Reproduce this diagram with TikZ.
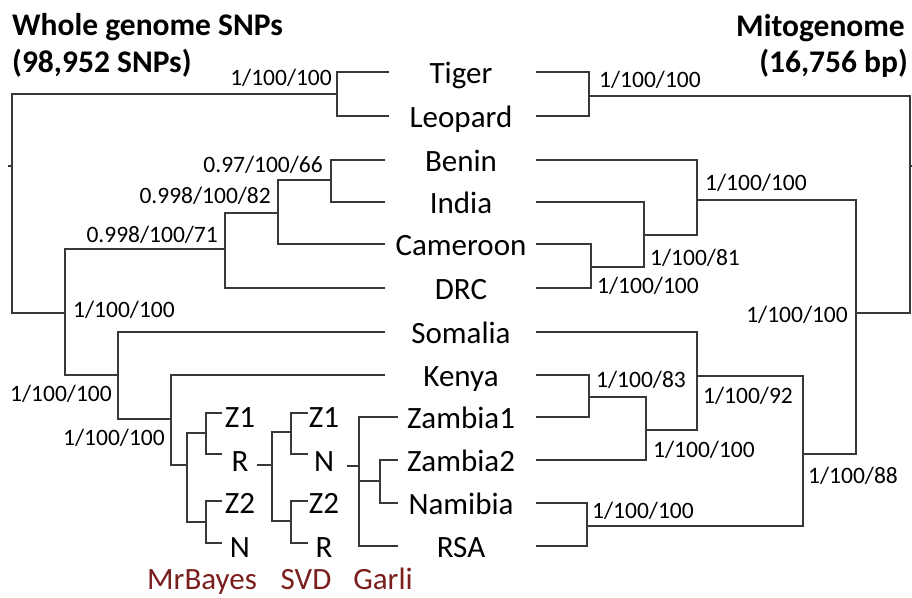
\documentclass[tikz,border=0pt]{standalone}
\usepackage{fontspec}
\setmainfont{Carlito}
\usetikzlibrary{positioning}
\definecolor{methodred}{RGB}{122,30,30}
\tikzset{branch/.style={draw=black!78,line width=1.5pt},
         taxon/.style={anchor=base,inner sep=0pt,font=\fontsize{31}{31}\selectfont},
         support/.style={inner sep=0pt,font=\fontsize{23.5}{24}\selectfont},
         heading/.style={inner sep=0pt,font=\bfseries\fontsize{31.5}{32}\selectfont},
         method/.style={anchor=base,inner sep=0pt,text=methodred,font=\fontsize{31}{31}\selectfont}
}

\begin{document}
\begin{tikzpicture}[x=1pt,y=-1pt]
\useasboundingbox (0,0) rectangle (912,597);
% headings
\node[heading,anchor=base west] (wgs) at (12,35) {Whole genome SNPs};
\node[heading,anchor=base west] (wgsn) at (12,72) {(98,952 SNPs)};
\node[heading,anchor=base east] (mito) at (905,36) {Mitogenome};
\node[heading,anchor=base east] (miton) at (908,72) {(16,756 bp)};

% taxa, with the ends of the branches on both sides
\foreach \name/\y/\lx in {Tiger/72/389, Leopard/116/389, Benin/160/385, India/202/385,
    Cameroon/244/385, DRC/288/385, Somalia/332/385, Kenya/375/385,
    Zambia1/417/398, Zambia2/460/398, Namibia/503/398, RSA/546/398}{
  \node[taxon] (\name) at (461,\y+11) {\name};
  \coordinate (l\name) at (\lx,\y);
  \coordinate (r\name) at (536,\y);
}

% whole genome tree
\coordinate (0) at (12,166);
\coordinate (stubl) at (8,166);
\coordinate (1) at (337,94);
\coordinate (2) at (65,313);
\coordinate (3) at (225,249);
\coordinate (4) at (278,213);
\coordinate (5) at (331,180);
\coordinate (6) at (118,375);
\coordinate (7) at (171,419);
\coordinate (8) at (187,465);
\coordinate (9) at (206,433);
\coordinate (10) at (206,522);
\coordinate (11) at (272,465);
\coordinate (12) at (291,432);
\coordinate (13) at (291,521);
\coordinate (14) at (359,466);
\coordinate (15) at (380,481);

% the three Zambia/RSA/Namibia topologies
\foreach \lab/\y/\by in {Z1/413/427, R/454/471, Z2/501/513, N/543/557}{
  \node[taxon] (mb\lab) at (240,\by) {\lab};
  \coordinate (mbt\lab) at (222,\y);
}
\foreach \lab/\y/\by in {Z1/413/427, N/454/471, Z2/501/513, R/543/557}{
  \node[taxon] (sv\lab) at (324,\by) {\lab};
  \coordinate (svt\lab) at (308,\y);
}
\node[method] (mrbayes) at (202,589) {MrBayes};
\node[method] (svd) at (306,589) {SVD};
\node[method] (garli) at (383,589) {Garli};

\draw[branch] (stubl) -- (0);
\draw[branch] (0) |- (1);
\draw[branch] (0) |- (2);
\draw[branch] (1) |- (lTiger);
\draw[branch] (1) |- (lLeopard);
\draw[branch] (2) |- (3);
\draw[branch] (2) |- (6);
\draw[branch] (3) |- (4);
\draw[branch] (3) |- (lDRC);
\draw[branch] (4) |- (5);
\draw[branch] (4) |- (lCameroon);
\draw[branch] (5) |- (lBenin);
\draw[branch] (5) |- (lIndia);
\draw[branch] (6) |- (lSomalia);
\draw[branch] (6) |- (7);
\draw[branch] (7) |- (lKenya);
\draw[branch] (7) |- (8);
\draw[branch] (8) |- (9);
\draw[branch] (8) |- (10);
\draw[branch] (9) |- (mbtZ1);
\draw[branch] (9) |- (mbtR);
\draw[branch] (10) |- (mbtZ2);
\draw[branch] (10) |- (mbtN);
\draw[branch] ([xshift=8pt]mbR.east |- 11) -- (11);
\draw[branch] (11) |- (12);
\draw[branch] (11) |- (13);
\draw[branch] (12) |- (svtZ1);
\draw[branch] (12) |- (svtN);
\draw[branch] (13) |- (svtZ2);
\draw[branch] (13) |- (svtR);
\draw[branch] ([xshift=13pt]svN.east |- 14) -- (14);
\draw[branch] (14) |- (lZambia1);
\draw[branch] (14) |- (lRSA);
\draw[branch] (14 |- 15) -- (15);
\draw[branch] (15) |- (lZambia2);
\draw[branch] (15) |- (lNamibia);

\node[support,anchor=base east] (s1) at (332,85) {1/100/100};
\node[support,anchor=base east] (s5) at (323,172) {0.97/100/66};
\node[support,anchor=base east] (s4) at (271,203) {0.998/100/82};
\node[support,anchor=base east] (s3) at (218,242) {0.998/100/71};
\node[support,anchor=base west] (s2) at (73,317) {1/100/100};
\node[support,anchor=base west] (s6) at (10,401) {1/100/100};
\node[support,anchor=base west] (s7) at (63,445) {1/100/100};

% mitogenome tree
\coordinate (20) at (910,166);
\coordinate (stubr) at (913,166);
\coordinate (21) at (589,96);
\coordinate (22) at (856,313);
\coordinate (23) at (697,200);
\coordinate (24) at (644,235);
\coordinate (25) at (591,267);
\coordinate (26) at (803,454);
\coordinate (27) at (697,376);
\coordinate (28) at (646,430);
\coordinate (29) at (589,397);
\coordinate (30) at (587,526);

\draw[branch] (20) -- (stubr);
\draw[branch] (20) |- (21);
\draw[branch] (20) |- (22);
\draw[branch] (21) |- (rTiger);
\draw[branch] (21) |- (rLeopard);
\draw[branch] (22) |- (23);
\draw[branch] (22) |- (26);
\draw[branch] (23) |- (rBenin);
\draw[branch] (23) |- (24);
\draw[branch] (24) |- (rIndia);
\draw[branch] (24) |- (25);
\draw[branch] (25) |- (rCameroon);
\draw[branch] (25) |- (rDRC);
\draw[branch] (26) |- (27);
\draw[branch] (26) |- (30);
\draw[branch] (27) |- (rSomalia);
\draw[branch] (27) |- (28);
\draw[branch] (28) |- (29);
\draw[branch] (28) |- (rZambia2);
\draw[branch] (29) |- (rKenya);
\draw[branch] (29) |- (rZambia1);
\draw[branch] (30) |- (rNamibia);
\draw[branch] (30) |- (rRSA);

\node[support,anchor=base west] (s21) at (599,87) {1/100/100};
\node[support,anchor=base west] (s23) at (705,190) {1/100/100};
\node[support,anchor=base west] (s24) at (650,265) {1/100/81};
\node[support,anchor=base west] (s25) at (597,293) {1/100/100};
\node[support,anchor=base east] (s22) at (848,322) {1/100/100};
\node[support,anchor=base west] (s29) at (596,387) {1/100/83};
\node[support,anchor=base west] (s27) at (703,403) {1/100/92};
\node[support,anchor=base west] (s28) at (653,457) {1/100/100};
\node[support,anchor=base west] (s26) at (808,483) {1/100/88};
\node[support,anchor=base west] (s30) at (592,518) {1/100/100};
\end{tikzpicture}
\end{document}
